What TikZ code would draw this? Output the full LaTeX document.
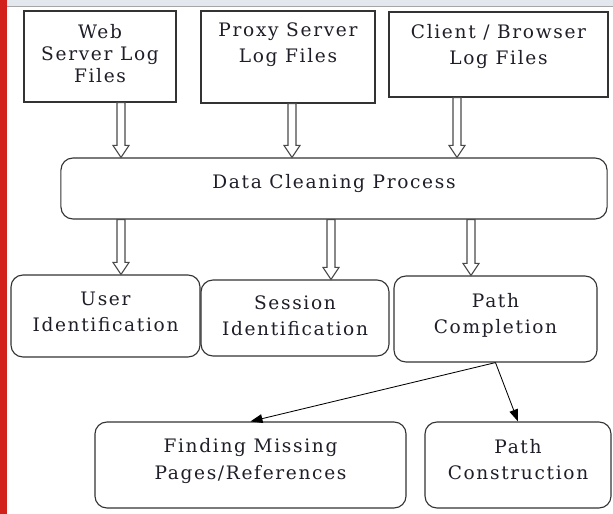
\documentclass[tikz,border=0pt]{standalone}
\usepackage{fontspec}
\setmainfont{DejaVu Serif}[LetterSpace=9]
\usepackage{xcolor}
\usetikzlibrary{arrows.meta,calc}
\definecolor{Ink}{HTML}{1E1E28}
\definecolor{Frame}{HTML}{333333}
\definecolor{Shaft}{HTML}{4A4A4A}
\definecolor{Strip}{HTML}{E3E8EF}
\definecolor{Margin}{HTML}{D2201A}

% hollow block arrow straight down, at x=#1, from node #2 to node #3
\newcommand{\hollowarrow}[3]{%
  \coordinate (ha) at (#1,0 |- #2.south);
  \coordinate (hb) at (#1,0 |- #3.north);
  \draw[hollow] ([xshift=-0.1cm]ha) -- ([xshift=-0.1cm,yshift=0.3cm]hb)
    -- ([xshift=-0.2cm,yshift=0.3cm]hb) -- (hb)
    -- ([xshift=0.2cm,yshift=0.3cm]hb) -- ([xshift=0.1cm,yshift=0.3cm]hb)
    -- ([xshift=0.1cm]ha) -- cycle;}

\begin{document}
\begin{tikzpicture}[x=0.025cm,y=-0.025cm,
  logbox/.style={draw=Frame,line width=0.8pt,fill=white},
  stage/.style={draw=Frame,line width=0.8pt,fill=white,rounded corners=0.3cm},
  txt/.style={text=Ink,align=center,font=\fontsize{13.2}{18.5}\selectfont},
  hollow/.style={draw=Shaft,line width=0.75pt,fill=white},
  link/.style={draw=black,line width=0.6pt,-{Triangle[length=0.3cm,width=0.22cm]}}]
\useasboundingbox (0,0) rectangle (613,514);
\fill[Strip] (0,0) rectangle (613,6);
\draw[gray!70,line width=0.6pt] (0,6.5)--(613,6.5);
\fill[Margin] (0,0) rectangle (7,514);

% sources
\node[logbox,minimum width=3.8cm,minimum height=2.275cm] (web) at (100,56.5) {};
\node[logbox,minimum width=4.35cm,minimum height=2.3cm] (proxy) at (288,57) {};
\node[logbox,minimum width=5.475cm,minimum height=2.125cm] (client) at (498.5,54.5) {};
\node[txt,font=\fontsize{13.2}{15.8}\selectfont] (webt) at ($(web)+(0,-3)$) {Web\\Server Log\\Files};
\node[txt] (proxyt) at ($(proxy)+(0,-12.5)$) {Proxy Server\\Log Files};
\node[txt] (clientt) at ($(client)+(0,-8)$) {Client / Browser\\Log Files};

% cleaning
\node[stage,minimum width=13.65cm,minimum height=1.525cm] (clean) at (334,188.5) {};
\node[txt] (cleant) at ($(clean)+(0,-4.5)$) {Data Cleaning Process};

% preprocessing steps
\node[stage,minimum width=4.725cm,minimum height=2.05cm] (user) at (105.5,316) {};
\node[stage,minimum width=4.7cm,minimum height=1.9cm] (session) at (295,318) {};
\node[stage,minimum width=5.075cm,minimum height=2.15cm] (pathc) at (495.5,319) {};
\node[txt] (usert) at ($(user)+(0,-4)$) {User\\Identification};
\node[txt] (sessiont) at ($(session)+(0,-2)$) {Session\\Identification};
\node[txt] (pathct) at ($(pathc)+(0,-3.5)$) {Path\\Completion};

% completion outputs
\node[stage,minimum width=7.775cm,minimum height=2.15cm] (find) at (250.5,465) {};
\node[stage,minimum width=4.65cm,minimum height=2.15cm] (build) at (518,465) {};
\node[txt] (findt) at ($(find)+(0,-4)$) {Finding Missing\\Pages/References};
\node[txt] (buildt) at ($(build)+(0,-5)$) {Path\\Construction};

\hollowarrow{121}{web}{clean}
\hollowarrow{292}{proxy}{clean}
\hollowarrow{457}{client}{clean}
\hollowarrow{121}{clean}{user}
\hollowarrow{331}{clean}{session}
\hollowarrow{471}{clean}{pathc}

\draw[link] (pathc.south) -- (find.north);
\draw[link] (pathc.south) -- (build.north);
\end{tikzpicture}
\end{document}
